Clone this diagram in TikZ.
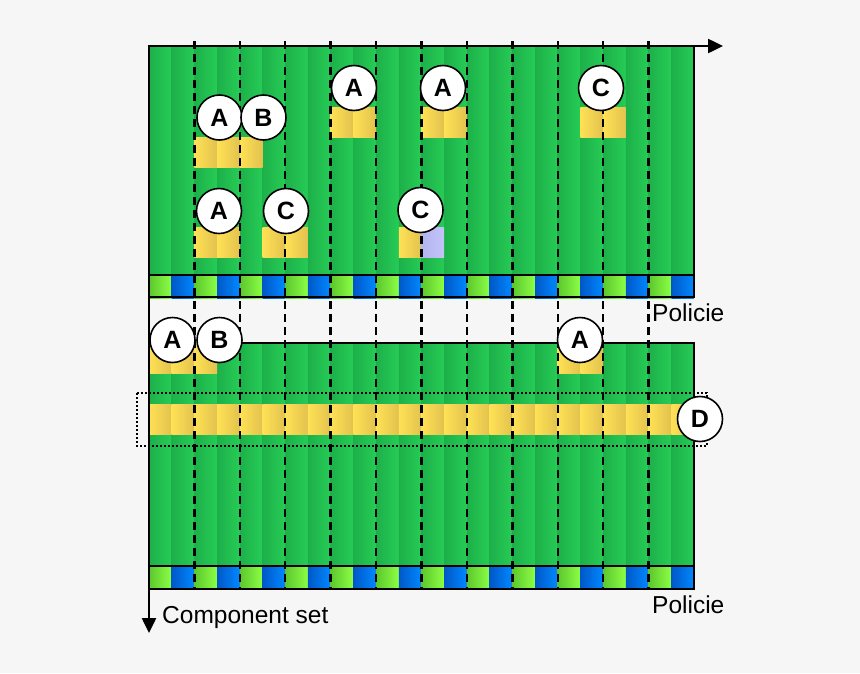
\documentclass[tikz,border=0pt]{standalone}
\usepackage{fontspec}
\setmainfont{Liberation Sans}
\usetikzlibrary{arrows.meta}
\definecolor{bgc}{HTML}{F6F6F6}
\definecolor{gdark}{HTML}{1DB04A}
\definecolor{glight}{HTML}{26CC55}
\definecolor{pgA}{HTML}{5CC72E}
\definecolor{pgB}{HTML}{8CFF44}
\definecolor{pbA}{HTML}{0058C8}
\definecolor{pbB}{HTML}{0088FF}
\definecolor{yA}{HTML}{FFE155}
\definecolor{yB}{HTML}{E2C24E}
\definecolor{lavA}{HTML}{B4B4EE}
\definecolor{lavB}{HTML}{C4C4FA}
\begin{document}
\begin{tikzpicture}[x=1pt,y=-1pt,
  lbl/.style={circle,draw=black,line width=1.6pt,fill=white,minimum size=45pt,inner sep=0pt,font=\fontsize{25}{25}\selectfont\bfseries},
  border/.style={line width=2pt,draw=black},
  axis/.style={line width=2.5pt,-{Triangle[length=15pt,width=14pt]}},
  vdash/.style={line width=2.4pt,dash pattern=on 8pt off 5pt},
  txt/.style={font=\fontsize{24.5}{25}\selectfont,inner sep=0pt}]
\fill[bgc] (0,0) rectangle (860,673);
\useasboundingbox (0,0) rectangle (860,673);
\def\w{22.708}
% green areas
\foreach \i in {0,...,23}{
  \shade[left color=gdark,right color=glight] ({149+\i*\w},46) rectangle ({149+(\i+1)*\w},275);
  \shade[left color=gdark,right color=glight] ({149+\i*\w},343) rectangle ({149+(\i+1)*\w},566);
}
% policy bars
\foreach \i in {0,...,11}{
  \foreach \y in {275,566}{
    \shade[left color=pgA,right color=pgB] ({149+2*\i*\w},\y) rectangle ({149+(2*\i+1)*\w},\y+23);
    \shade[left color=pbA,right color=pbB] ({149+(2*\i+1)*\w},\y) rectangle ({149+(2*\i+2)*\w},\y+23);
  }
}
% yellow boxes (cell start, number of cells, top y)
\newcommand\ybox[3]{%
  \foreach \k in {1,...,#2}{
    \shade[left color=yA,right color=yB] ({149+(#1+\k-1)*\w},#3) rectangle ({149+(#1+\k)*\w},#3+30);
  }}
\ybox{2}{3}{137}
\ybox{8}{2}{107}
\ybox{12}{2}{107}
\ybox{19}{2}{107}
\ybox{2}{2}{227}
\ybox{5}{2}{227}
\ybox{11}{1}{227}
\shade[left color=lavA,right color=lavB] ({149+12*\w},227) rectangle ({149+13*\w},257);
\ybox{0}{3}{343}
\ybox{18}{2}{343}
\ybox{0}{24}{404}
% borders
\draw[border] (149,46) rectangle (694,297);
\draw[border] (149,275) -- (694,275);
\draw[border] (218,343) -- (694,343) -- (694,589) -- (149,589);
\draw[border] (149,566) -- (694,566);
% dashed column lines
\foreach \k in {1,...,11}{
  \draw[vdash] ({149+\k*45.417},41) -- ({149+\k*45.417},589);
}
% dotted frame
\draw[line width=2pt,dotted] (137,393) rectangle (707,446);
% axes
\coordinate (o) at (149,46);
\coordinate (xe) at (723,46);
\coordinate (ye) at (149,633);
\draw[axis] (o) -- (xe);
\draw[axis] (o) -- (ye);
% labels
\node[lbl] (a1) at (219.5,117.5) {A};
\node[lbl] (b1) at (263.5,117.5) {B};
\node[lbl] (a2) at (354,88) {A};
\node[lbl] (a3) at (443,88) {A};
\node[lbl] (c1) at (601,88) {C};
\node[lbl] (a4) at (219,211) {A};
\node[lbl] (c2) at (286,211) {C};
\node[lbl] (c3) at (420.5,210) {C};
\node[lbl] (a5) at (172.5,340) {A};
\node[lbl] (b2) at (219.5,340) {B};
\node[lbl] (a6) at (580,340) {A};
\node[lbl] (d1) at (700,419) {D};
\node[txt,anchor=west] (p1) at (652,313) {Policie};
\node[txt,anchor=west] (p2) at (652,605) {Policie};
\node[txt,anchor=west] (cs) at (162,617) {Component set};
\end{tikzpicture}
\end{document}
